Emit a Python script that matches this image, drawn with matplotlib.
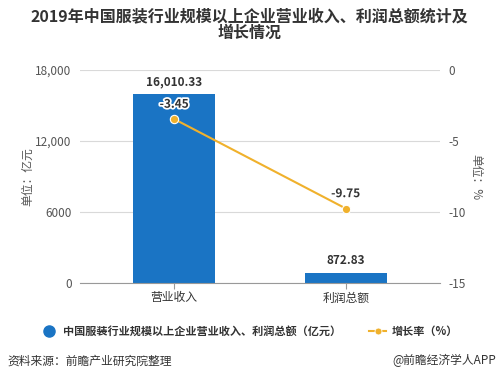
import matplotlib
matplotlib.use("Agg")
import matplotlib.pyplot as plt
import matplotlib.patheffects as pe
from matplotlib.lines import Line2D

plt.rcParams['font.family'] = ['Noto Sans CJK SC', 'DejaVu Sans']

categories = ["营业收入", "利润总额"]
values = [16010.33, 872.83]
growth = [-3.45, -9.75]
value_labels = ["16,010.33", "872.83"]
growth_labels = ["-3.45", "-9.75"]
left_ticks = [0, 6000, 12000, 18000]
left_ticklabels = ["0", "6000", "12,000", "18,000"]
right_ticks = [0, -5, -10, -15]

bar_color = "#1a74c4"
line_color = "#f0b12c"
grey = "#555555"

fig = plt.figure(figsize=(4.99, 3.83), dpi=100)
ax = fig.add_axes([0.160, 0.261, 0.722, 0.556])
x = range(len(categories))

ax.bar(x, values, width=0.48, color=bar_color, zorder=2)
ax.set_ylim(0, 18000)
ax.set_xlim(-0.55, 1.55)
ax.set_yticks(left_ticks)
ax.set_yticklabels(left_ticklabels, fontsize=8.5, color=grey)
ax.set_xticks(list(x))
ax.set_xticklabels(categories, fontsize=8.5, color="#333333")
ax.grid(axis="y", color="#d9d9d9", linewidth=0.8, zorder=0)
for s in ["top", "right", "left"]:
    ax.spines[s].set_visible(False)
ax.spines["bottom"].set_color("#999999")
ax.tick_params(axis="y", length=0, pad=6)
ax.tick_params(axis="x", length=4, color="#999999", pad=2)
ax.set_ylabel("单位：亿元", fontsize=8.5, color=grey, labelpad=1)

for xi, v, lab in zip(x, values, value_labels):
    ax.annotate(lab, (xi, v), xytext=(0, 4), textcoords="offset points",
                ha="center", va="bottom", fontsize=8.5, fontweight="bold", color="#333333")

ax2 = ax.twinx()
ax2.set_ylim(-15, 0)
ax2.plot(list(x), growth, color=line_color, linewidth=1.5, marker="o", markersize=6,
         markeredgecolor="white", markeredgewidth=0.8, zorder=3)
ax2.set_yticks(right_ticks)
ax2.set_yticklabels([str(t) for t in right_ticks], fontsize=8.5, color=grey)
for s in ["top", "right", "left", "bottom"]:
    ax2.spines[s].set_visible(False)
ax2.tick_params(axis="y", length=0, pad=6)
ax2.set_ylabel("单位：%", fontsize=8.5, color=grey, rotation=270, labelpad=12)

for xi, g, lab in zip(x, growth, growth_labels):
    ax2.annotate(lab, (xi, g), xytext=(0, 6), textcoords="offset points",
                 ha="center", va="bottom", fontsize=8.5, fontweight="bold", color="#333333",
                 path_effects=[pe.withStroke(linewidth=2.5, foreground="white")])

fig.text(0.5, 0.978, "2019年中国服装行业规模以上企业营业收入、利润总额统计及\n增长情况",
         ha="center", va="top", fontsize=11.5, fontweight="bold", color="#333333",
         linespacing=1.05)

handles = [Line2D([], [], marker="o", linestyle="none", color=bar_color, markersize=8),
           Line2D([], [], marker="o", color=line_color, markersize=5, linewidth=1.5,
                  markeredgecolor="white", markeredgewidth=0.6)]
fig.legend(handles, ["中国服装行业规模以上企业营业收入、利润总额（亿元）", "增长率（%）"],
           loc="center", bbox_to_anchor=(0.5, 0.135), ncol=2, frameon=False,
           prop={"size": 8, "weight": "bold"}, handlelength=1.5, columnspacing=2.5,
           handletextpad=0.5, labelcolor="#333333")

fig.text(0.015, 0.058, "资料来源：前瞻产业研究院整理", fontsize=8.5, color="#333333", va="center")
fig.text(0.995, 0.058, "@前瞻经济学人APP", fontsize=8.5, color="#333333", va="center", ha="right")

fig.savefig("out.png", dpi=100)
